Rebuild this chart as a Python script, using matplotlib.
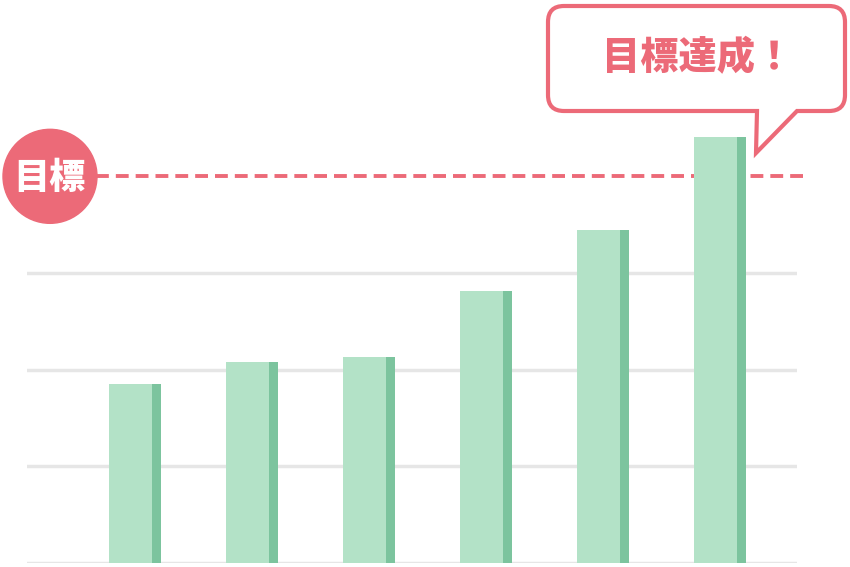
import matplotlib
matplotlib.use("Agg")
import matplotlib.pyplot as plt
from matplotlib.path import Path
from matplotlib.patches import PathPatch, Circle

plt.rcParams['font.family'] = ['Noto Sans CJK JP', 'DejaVu Sans']

# --------------------------------------
# Data
# --------------------------------------
values = [1.85, 2.08, 2.13, 2.81, 3.44, 4.41]
grid_levels = [0, 1, 2, 3]
target = 4
target_label = "目標"
bubble_label = "目標達成！"

# --------------------------------------
# Styles
# --------------------------------------
pink = "#ec6a78"
bar_light = "#b3e2c7"
bar_dark = "#7cc49e"
grid_color = "#e6e6e6"

W, H = 850, 567
fig = plt.figure(figsize=(W / 100, H / 100), dpi=100)

# main axes: 27..797 px wide, value 0 at y=563 px, 1 unit = 96.67 px
unit = 96.67
ax = fig.add_axes([27 / W, (H - 563) / H, 770 / W, 563 / H])
ax.set_xlim(-0.923, 5.658)
ax.set_ylim(0, 563 / unit)
ax.axis("off")

for g in grid_levels:
    ax.axhline(g, color=grid_color, lw=2.5, zorder=1)

bar_w = 0.444
strip_w = 0.077
x = range(len(values))
ax.bar(x, values, width=bar_w, color=bar_light, zorder=3)
ax.bar([i + bar_w / 2 - strip_w / 2 for i in x], values, width=strip_w,
       color=bar_dark, zorder=4)

# target line (drawn below bars), extends past the grid
ax.plot([-0.33, 5.72], [target, target], color=pink, lw=2.8,
        dashes=(3.3, 1.8), zorder=2, clip_on=False, solid_capstyle="butt")

# --------------------------------------
# Decorations in pixel coordinates
# --------------------------------------
ov = fig.add_axes([0, 0, 1, 1], facecolor="none")
ov.set_xlim(0, W)
ov.set_ylim(H, 0)
ov.axis("off")

ty = 563 - target * unit  # pixel y of target line
ov.add_patch(Circle((50, ty), 47, color=pink, zorder=5))
ov.text(49, ty + 2, target_label, color="white", fontsize=26,
        fontweight="heavy", ha="center", va="center", zorder=6)

# speech bubble
x0, x1, y0, y1, r = 548, 845, 6, 111, 16
tl, tr, tip = 757, 797, (756, 153)
verts = [
    (x0 + r, y0), (x1 - r, y0), (x1, y0), (x1, y0 + r),
    (x1, y1 - r), (x1, y1), (x1 - r, y1),
    (tr, y1), tip, (tl, y1),
    (x0 + r, y1), (x0, y1), (x0, y1 - r),
    (x0, y0 + r), (x0, y0), (x0 + r, y0), (x0 + r, y0),
]
codes = [
    Path.MOVETO, Path.LINETO, Path.CURVE3, Path.CURVE3,
    Path.LINETO, Path.CURVE3, Path.CURVE3,
    Path.LINETO, Path.LINETO, Path.LINETO,
    Path.LINETO, Path.CURVE3, Path.CURVE3,
    Path.LINETO, Path.CURVE3, Path.CURVE3, Path.CLOSEPOLY,
]
ov.add_patch(PathPatch(Path(verts, codes), facecolor="white", edgecolor=pink,
                       lw=3, joinstyle="miter", zorder=5))
ov.text(698, 58, bubble_label, color=pink, fontsize=27.5, fontweight="heavy",
        ha="center", va="center", zorder=6)

fig.savefig("out.png", dpi=100, facecolor="white")
